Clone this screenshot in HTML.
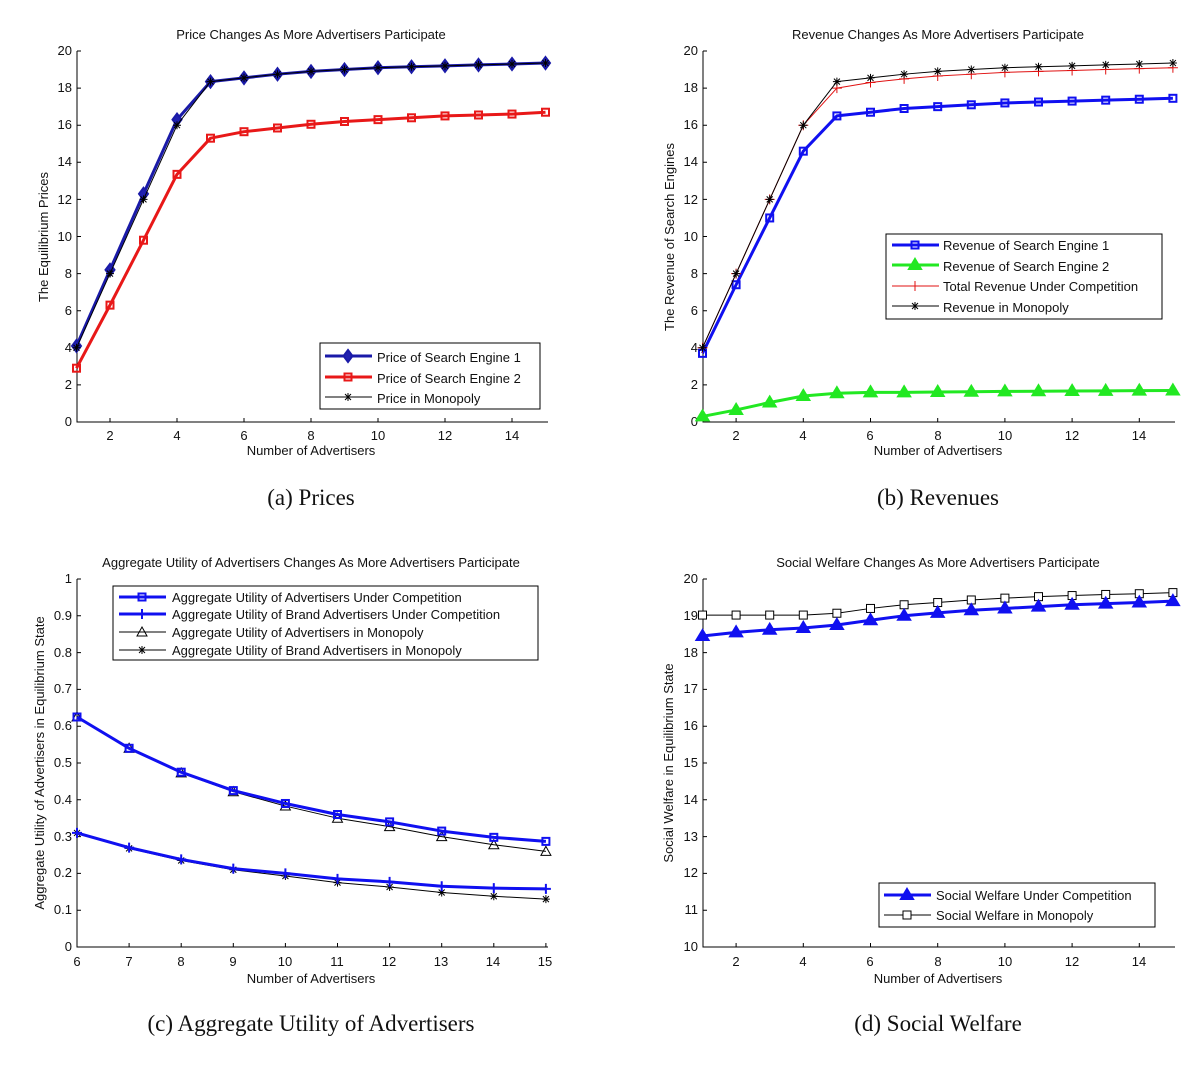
<!DOCTYPE html>
<html><head><meta charset="utf-8"><style>
body{margin:0;background:#fff;width:1203px;height:1072px;overflow:hidden}
svg{display:block}
text{font-family:"Liberation Sans",sans-serif;font-size:13px;fill:#111}
.cap{font-family:"Liberation Serif",serif;font-size:23px}
</style></head><body>
<svg id="s" width="1203" height="1072" xmlns="http://www.w3.org/2000/svg">
<g stroke="#000" stroke-width="1" fill="none">
<path d="M77,51V422H548"/><path d="M703,51V422H1175"/>
<path d="M77,579V947H548"/><path d="M703,579V947H1175"/>
</g>
<g id="ticks"></g>
<text x="311" y="39" text-anchor="middle">Price Changes As More Advertisers Participate</text>
<text x="938" y="39" text-anchor="middle">Revenue Changes As More Advertisers Participate</text>
<text x="311" y="567" text-anchor="middle">Aggregate Utility of Advertisers Changes As More Advertisers Participate</text>
<text x="938" y="567" text-anchor="middle">Social Welfare Changes As More Advertisers Participate</text>
<text x="311" y="455" text-anchor="middle">Number of Advertisers</text>
<text x="938" y="455" text-anchor="middle">Number of Advertisers</text>
<text x="311" y="983" text-anchor="middle">Number of Advertisers</text>
<text x="938" y="983" text-anchor="middle">Number of Advertisers</text>
<text transform="translate(48,237) rotate(-90)" text-anchor="middle">The Equilibrium Prices</text>
<text transform="translate(674,237) rotate(-90)" text-anchor="middle">The Revenue of Search Engines</text>
<text transform="translate(44,763) rotate(-90)" text-anchor="middle">Aggregate Utility of Advertisers in Equilibrium State</text>
<text transform="translate(673,763) rotate(-90)" text-anchor="middle">Social Welfare in Equilibrium State</text>
<text class="cap" x="311" y="505" text-anchor="middle">(a) Prices</text>
<text class="cap" x="938" y="505" text-anchor="middle">(b) Revenues</text>
<text class="cap" x="311" y="1031" text-anchor="middle">(c) Aggregate Utility of Advertisers</text>
<text class="cap" x="938" y="1031" text-anchor="middle">(d) Social Welfare</text>
<g text-anchor="end">
<text x="72" y="426">0</text><text x="72" y="389">2</text><text x="72" y="352">4</text><text x="72" y="315">6</text><text x="72" y="278">8</text><text x="72" y="241">10</text><text x="72" y="204">12</text><text x="72" y="166">14</text><text x="72" y="129">16</text><text x="72" y="92">18</text><text x="72" y="55">20</text>
<text x="698" y="426">0</text><text x="698" y="389">2</text><text x="698" y="352">4</text><text x="698" y="315">6</text><text x="698" y="278">8</text><text x="698" y="241">10</text><text x="698" y="204">12</text><text x="698" y="166">14</text><text x="698" y="129">16</text><text x="698" y="92">18</text><text x="698" y="55">20</text>
<text x="72" y="951">0</text><text x="72" y="914">0.1</text><text x="72" y="877">0.2</text><text x="72" y="841">0.3</text><text x="72" y="804">0.4</text><text x="72" y="767">0.5</text><text x="72" y="730">0.6</text><text x="72" y="693">0.7</text><text x="72" y="657">0.8</text><text x="72" y="620">0.9</text><text x="72" y="583">1</text>
<text x="698" y="951">10</text><text x="698" y="914">11</text><text x="698" y="877">12</text><text x="698" y="841">13</text><text x="698" y="804">14</text><text x="698" y="767">15</text><text x="698" y="730">16</text><text x="698" y="693">17</text><text x="698" y="657">18</text><text x="698" y="620">19</text><text x="698" y="583">20</text>
</g>
<g text-anchor="middle">
<text x="110" y="440">2</text><text x="177" y="440">4</text><text x="244" y="440">6</text><text x="311" y="440">8</text><text x="378" y="440">10</text><text x="445" y="440">12</text><text x="512" y="440">14</text>
<text x="736" y="440">2</text><text x="803" y="440">4</text><text x="870" y="440">6</text><text x="938" y="440">8</text><text x="1005" y="440">10</text><text x="1072" y="440">12</text><text x="1139" y="440">14</text>
<text x="77" y="966">6</text><text x="129" y="966">7</text><text x="181" y="966">8</text><text x="233" y="966">9</text><text x="285" y="966">10</text><text x="337" y="966">11</text><text x="389" y="966">12</text><text x="441" y="966">13</text><text x="493" y="966">14</text><text x="545" y="966">15</text>
<text x="736" y="966">2</text><text x="803" y="966">4</text><text x="870" y="966">6</text><text x="938" y="966">8</text><text x="1005" y="966">10</text><text x="1072" y="966">12</text><text x="1139" y="966">14</text>
</g>
<g id="plots"></g>
<g fill="#fff" stroke="#000"><rect x="320" y="343" width="220" height="66"/><rect x="886" y="234" width="276" height="85"/><rect x="113" y="586" width="425" height="74"/><rect x="879" y="883" width="276" height="44"/></g>
<g>
<text x="377" y="362">Price of Search Engine 1</text><text x="377" y="383">Price of Search Engine 2</text><text x="377" y="403">Price in Monopoly</text>
<text x="943" y="250">Revenue of Search Engine 1</text><text x="943" y="271">Revenue of Search Engine 2</text><text x="943" y="291">Total Revenue Under Competition</text><text x="943" y="312">Revenue in Monopoly</text>
<text x="172" y="602">Aggregate Utility of Advertisers Under Competition</text><text x="172" y="619">Aggregate Utility of Brand Advertisers Under Competition</text><text x="172" y="637">Aggregate Utility of Advertisers in Monopoly</text><text x="172" y="655">Aggregate Utility of Brand Advertisers in Monopoly</text>
<text x="936" y="900">Social Welfare Under Competition</text><text x="936" y="920">Social Welfare in Monopoly</text>
</g>
<g id="leg"></g>
</svg>
<script>
const NS="http://www.w3.org/2000/svg",P=document.getElementById('plots'),L=document.getElementById('leg'),T=document.getElementById('ticks');
function el(g,t,a){const e=document.createElementNS(NS,t);for(const k in a)e.setAttribute(k,a[k]);g.appendChild(e);return e}
function mk(g,m,x,y,c,w){
 if(m=='d')el(g,'path',{d:`M${x},${y-6}L${x+4.5},${y}L${x},${y+6}L${x-4.5},${y}Z`,fill:'#2020b0',stroke:c,'stroke-width':w});
 else if(m=='s')el(g,'rect',{x:x-3.5,y:y-3.5,width:7,height:7,fill:'none',stroke:c,'stroke-width':w});
 else if(m=='t')el(g,'path',{d:`M${x},${y-6}L${x+6},${y+4}L${x-6},${y+4}Z`,fill:c,stroke:c,'stroke-width':w});
 else if(m=='to')el(g,'path',{d:`M${x},${y-5}L${x+5},${y+4}L${x-5},${y+4}Z`,fill:'none',stroke:c,'stroke-width':1});
 else if(m=='+')el(g,'path',{d:`M${x-5},${y}H${x+5}M${x},${y-5}V${y+5}`,stroke:c,'stroke-width':w});
 else if(m=='*')el(g,'path',{d:`M${x-4},${y}H${x+4}M${x},${y-4}V${y+4}M${x-3},${y-3}L${x+3},${y+3}M${x-3},${y+3}L${x+3},${y-3}`,stroke:c,'stroke-width':1});
 else if(m=='sq')el(g,'rect',{x:x-4,y:y-4,width:8,height:8,fill:'#fff',stroke:c,'stroke-width':1});
}
function ser(fx,fy,xs,ys,c,w,m){let d='';xs.forEach((x,i)=>d+=(i?'L':'M')+fx(x)+','+fy(ys[i]));
 el(P,'path',{d,fill:'none',stroke:c,'stroke-width':w,'stroke-linejoin':'round'});
 xs.forEach((x,i)=>mk(P,m,fx(x),fy(ys[i]),c,w>1.5?2:1));}
function leg(x,y,c,w,m){el(L,'path',{d:`M${x},${y}H${x+47}`,stroke:c,'stroke-width':w});mk(L,m,x+23,y,c,w>1.5?2:1)}
function tk(x0,y0,y1,xs,ys){let d='';xs.forEach(x=>d+=`M${x},${y1}v-4`);ys.forEach(y=>d+=`M${x0},${y}h4`);el(T,'path',{d,stroke:'#000','stroke-width':1})}
const X15=[...Array(15).keys()].map(i=>i+1),X6=[6,7,8,9,10,11,12,13,14,15];
const ax=x=>76.5+(x-1)*33.5, ay=v=>422-v*18.55;
const bx=x=>702.5+(x-1)*33.6;
const cx=x=>77+(x-6)*52.1, cy=v=>947-v*368;
const dy=v=>947-(v-10)*36.8;
const ev=[2,4,6,8,10,12,14],yv=[0,2,4,6,8,10,12,14,16,18,20],u=[0,.1,.2,.3,.4,.5,.6,.7,.8,.9,1],dv=[10,11,12,13,14,15,16,17,18,19,20];
tk(77,0,422,ev.map(ax),yv.map(ay));tk(703,0,422,ev.map(bx),yv.map(ay));
tk(77,0,947,X6.map(cx),u.map(cy));tk(703,0,947,ev.map(bx),dv.map(dy));
ser(ax,ay,X15,[4.1,8.2,12.3,16.3,18.35,18.55,18.75,18.9,19.0,19.1,19.15,19.2,19.25,19.3,19.35],'#1a1aa8',3,'d');
ser(ax,ay,X15,[4,8,12,16,18.35,18.55,18.75,18.9,19.0,19.1,19.15,19.2,19.25,19.3,19.35],'#000',1,'*');
ser(ax,ay,X15,[2.9,6.3,9.8,13.35,15.3,15.65,15.85,16.05,16.2,16.3,16.4,16.5,16.55,16.6,16.7],'#e81818',3,'s');
leg(325,356,'#1a1aa8',3,'d');leg(325,377,'#e81818',3,'s');leg(325,397,'#000',1,'*');
ser(bx,ay,X15,[3.7,7.4,11.0,14.6,16.5,16.7,16.9,17.0,17.1,17.2,17.25,17.3,17.35,17.4,17.45],'#1010f0',3,'s');
ser(bx,ay,X15,[0.3,0.65,1.05,1.4,1.55,1.6,1.6,1.62,1.63,1.65,1.66,1.67,1.68,1.69,1.7],'#22e822',3,'t');
ser(bx,ay,X15,[4,8,12,16,18.0,18.3,18.5,18.65,18.75,18.85,18.9,18.95,19.0,19.05,19.1],'#e01010',1,'+');
ser(bx,ay,X15,[4,8,12,16,18.35,18.55,18.75,18.9,19.0,19.1,19.15,19.2,19.25,19.3,19.35],'#000',1,'*');
leg(892,245,'#1010f0',3,'s');leg(892,265,'#22e822',3,'t');leg(892,286,'#e01010',1,'+');leg(892,306,'#000',1,'*');
ser(cx,cy,X6,[.625,.54,.473,.422,.383,.35,.327,.3,.278,.26],'#000',1,'to');
ser(cx,cy,X6,[.31,.268,.235,.21,.193,.175,.163,.148,.138,.13],'#000',1,'*');
ser(cx,cy,X6,[.625,.54,.475,.425,.39,.36,.34,.315,.298,.287],'#1010f0',3,'s');
ser(cx,cy,X6,[.31,.27,.238,.213,.2,.185,.177,.165,.16,.158],'#1010f0',3,'+');
leg(119,597,'#1010f0',3,'s');leg(119,614,'#1010f0',3,'+');leg(119,632,'#000',1,'to');leg(119,650,'#000',1,'*');
ser(bx,dy,X15,[19.02,19.02,19.02,19.02,19.07,19.2,19.3,19.36,19.43,19.48,19.52,19.55,19.58,19.6,19.63],'#000',1,'sq');
ser(bx,dy,X15,[18.45,18.55,18.62,18.67,18.75,18.88,19.0,19.08,19.15,19.2,19.25,19.3,19.33,19.36,19.4],'#1010f0',3,'t');
leg(884,895,'#1010f0',3,'t');leg(884,915,'#000',1,'sq');
</script>
</body></html>
